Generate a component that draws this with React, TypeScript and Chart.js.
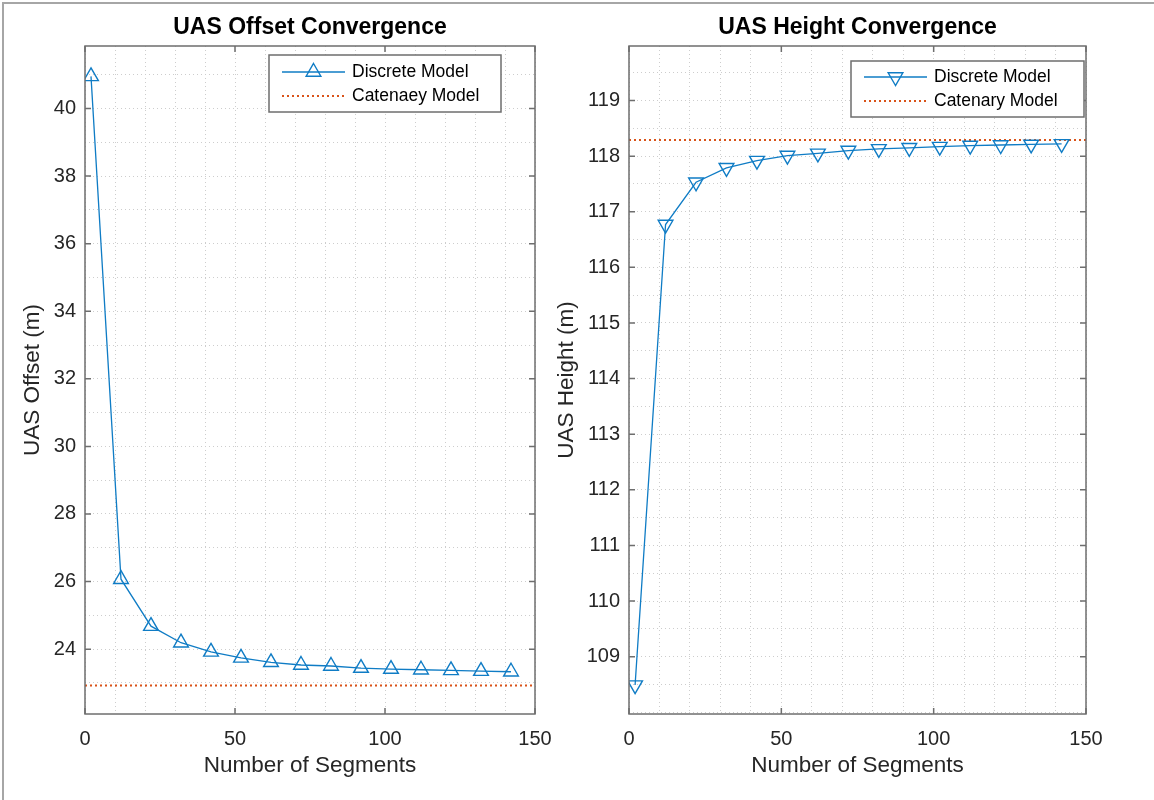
import React, { useEffect, useRef } from 'react';
import { Chart, registerables } from 'chart.js';

Chart.register(...registerables);

// ---------- data ----------
const segments = [2, 12, 22, 32, 42, 52, 62, 72, 82, 92, 102, 112, 122, 132, 142];
const offsetDiscrete = [40.95, 26.07, 24.68, 24.19, 23.92, 23.74, 23.61, 23.53, 23.5, 23.44, 23.41, 23.39, 23.37, 23.35, 23.33];
const offsetCatenary = 22.92;
const heightDiscrete = [108.49, 116.77, 117.53, 117.79, 117.92, 118.01, 118.05, 118.1, 118.13, 118.15, 118.17, 118.19, 118.2, 118.21, 118.22];
const heightCatenary = 118.29;
const catenaryX = [0, 150];

const xMajorTicks = [0, 50, 100, 150];
const xMinorTicks = [0, 10, 20, 30, 40, 50, 60, 70, 80, 90, 100, 110, 120, 130, 140, 150];
const offsetMajorTicks = [24, 26, 28, 30, 32, 34, 36, 38, 40];
const offsetMinorTicks = [23, 24, 25, 26, 27, 28, 29, 30, 31, 32, 33, 34, 35, 36, 37, 38, 39, 40, 41];
const heightMajorTicks = [109, 110, 111, 112, 113, 114, 115, 116, 117, 118, 119];
const heightMinorTicks = [108, 108.5, 109, 109.5, 110, 110.5, 111, 111.5, 112, 112.5, 113, 113.5, 114, 114.5, 115, 115.5, 116, 116.5, 117, 117.5, 118, 118.5, 119, 119.5];
const xRange = [0, 150];
const offsetRange = [22.08, 41.85];
const heightRange = [107.97, 119.98];

// ---------- styles ----------
const FONT = '"Liberation Sans", Arial, Helvetica, sans-serif';
const BLUE = '#0f7cc5';
const ORANGE = '#D95319';
const GRID_COLOR = '#cdcdcd';
const AXIS_COLOR = '#6e6e6e';
const TICK_COLOR = '#262626';
const TICK_LEN = 6;

const decorPlugin = {
  id: 'matlabDecor',
  afterDraw(chart: any, _args: any, opts: any) {
    const ctx = chart.ctx;
    const { left, right, top, bottom } = chart.chartArea;
    const xs = chart.scales.x;
    const ys = chart.scales.y;
    ctx.save();
    // axes box
    ctx.strokeStyle = AXIS_COLOR;
    ctx.lineWidth = 1.5;
    ctx.setLineDash([]);
    ctx.strokeRect(left, top, right - left, bottom - top);
    // inward major ticks
    ctx.beginPath();
    for (const v of opts.xMajor) {
      const px = xs.getPixelForValue(v);
      ctx.moveTo(px, bottom);
      ctx.lineTo(px, bottom - TICK_LEN);
      ctx.moveTo(px, top);
      ctx.lineTo(px, top + TICK_LEN);
    }
    for (const v of opts.yMajor) {
      const py = ys.getPixelForValue(v);
      ctx.moveTo(left, py);
      ctx.lineTo(left + TICK_LEN, py);
      ctx.moveTo(right, py);
      ctx.lineTo(right - TICK_LEN, py);
    }
    ctx.stroke();

    // title
    ctx.textAlign = 'center';
    ctx.textBaseline = 'middle';
    ctx.fillStyle = '#000';
    ctx.font = `bold 23px ${FONT}`;
    ctx.fillText(opts.title, (left + right) / 2, opts.titleY);

    // axis labels
    ctx.fillStyle = TICK_COLOR;
    ctx.font = `22.5px ${FONT}`;
    ctx.fillText(opts.xLabel, (left + right) / 2, opts.xLabelY);
    ctx.save();
    ctx.translate(opts.yLabelX, (top + bottom) / 2);
    ctx.rotate(-Math.PI / 2);
    ctx.fillText(opts.yLabel, 0, 0);
    ctx.restore();

    // legend
    const lb = opts.legend;
    ctx.fillStyle = '#fff';
    ctx.fillRect(lb.x, lb.y, lb.w, lb.h);
    ctx.strokeStyle = AXIS_COLOR;
    ctx.lineWidth = 1.5;
    ctx.strokeRect(lb.x, lb.y, lb.w, lb.h);
    chart.data.datasets.forEach((ds: any, i: number) => {
      const ry = lb.y + lb.rows[i];
      ctx.save();
      ctx.strokeStyle = ds.borderColor;
      ctx.lineWidth = ds.borderWidth;
      ctx.setLineDash(ds.borderDash || []);
      ctx.beginPath();
      ctx.moveTo(lb.x + 13, ry);
      ctx.lineTo(lb.x + 76, ry);
      ctx.stroke();
      ctx.setLineDash([]);
      if (ds.pointRadius > 0) {
        const r = ds.pointRadius;
        const cx = lb.x + 44.5;
        let rad = ((ds.pointRotation || 0) * Math.PI) / 180;
        ctx.lineWidth = ds.pointBorderWidth;
        ctx.beginPath();
        for (let k = 0; k < 3; k++) {
          const px = cx + Math.sin(rad) * r;
          const py = ry - Math.cos(rad) * r;
          if (k === 0) ctx.moveTo(px, py);
          else ctx.lineTo(px, py);
          rad += (2 * Math.PI) / 3;
        }
        ctx.closePath();
        ctx.stroke();
      }
      ctx.fillStyle = '#000';
      ctx.font = `17.5px ${FONT}`;
      ctx.textAlign = 'left';
      ctx.textBaseline = 'middle';
      ctx.fillText(ds.label, lb.x + 83, ry);
      ctx.restore();
    });
    ctx.restore();
  },
};

type PanelProps = {
  left: number;
  width: number;
  rightPad: number;
  yAxisWidth: number;
  values: number[];
  catenary: number;
  catLabel: string;
  yRange: number[];
  yMajor: number[];
  yMinor: number[];
  rotation: number;
  title: string;
  yLabel: string;
  yLabelX: number;
  legend: { x: number; y: number; w: number; h: number; rows: number[] };
};

function Panel(p: PanelProps) {
  const ref = useRef<HTMLCanvasElement | null>(null);
  useEffect(() => {
    if (!ref.current) return;
    const isMajorY = (v: number) => p.yMajor.some((m) => Math.abs(m - v) < 1e-9);
    const chart = new Chart(ref.current, {
      type: 'line',
      data: {
        datasets: [
          {
            label: 'Discrete Model',
            data: segments.map((s, i) => ({ x: s, y: p.values[i] })),
            borderColor: BLUE,
            borderWidth: 1.3,
            pointStyle: 'triangle',
            pointRadius: 8.5,
            pointRotation: p.rotation,
            pointBorderWidth: 1.4,
            pointBorderColor: BLUE,
            pointBackgroundColor: 'rgba(0,0,0,0)',
            fill: false,
            tension: 0,
          } as any,
          {
            label: p.catLabel,
            data: catenaryX.map((x) => ({ x, y: p.catenary })),
            borderColor: ORANGE,
            borderWidth: 2,
            borderDash: [2, 3],
            pointRadius: 0,
            fill: false,
          } as any,
        ],
      },
      options: {
        animation: false,
        responsive: false,
        devicePixelRatio: 1,
        layout: { padding: { left: 0, right: p.rightPad, top: 46, bottom: 0 } },
        plugins: {
          legend: { display: false },
          title: { display: false },
          tooltip: { enabled: false },
          matlabDecor: {
            title: p.title,
            titleY: 28,
            xLabel: 'Number of Segments',
            xLabelY: 766,
            yLabel: p.yLabel,
            yLabelX: p.yLabelX,
            xMajor: xMajorTicks,
            yMajor: p.yMajor,
            legend: p.legend,
          },
        } as any,
        scales: {
          x: {
            type: 'linear',
            min: xRange[0],
            max: xRange[1],
            afterBuildTicks: (s: any) => {
              s.ticks = xMinorTicks.map((v) => ({ value: v }));
            },
            afterFit: (s: any) => {
              s.height = 86;
              s.paddingLeft = 0;
              s.paddingRight = 0;
            },
            grid: { color: GRID_COLOR, lineWidth: 1, drawTicks: false },
            border: { display: false, dash: [1, 3] },
            ticks: {
              autoSkip: false,
              maxRotation: 0,
              padding: 13,
              color: TICK_COLOR,
              font: { family: FONT, size: 20 },
              callback: (v: any) => (xMajorTicks.includes(Number(v)) ? String(v) : ''),
            },
          },
          y: {
            type: 'linear',
            min: p.yRange[0],
            max: p.yRange[1],
            afterBuildTicks: (s: any) => {
              s.ticks = p.yMinor.map((v) => ({ value: v }));
            },
            afterFit: (s: any) => {
              s.width = p.yAxisWidth;
              s.paddingTop = 0;
              s.paddingBottom = 0;
            },
            grid: { color: GRID_COLOR, lineWidth: 1, drawTicks: false },
            border: { display: false, dash: [1, 3] },
            ticks: {
              autoSkip: false,
              padding: 9,
              color: TICK_COLOR,
              font: { family: FONT, size: 20 },
              callback: (v: any) => (isMajorY(Number(v)) ? String(v) : ''),
            },
          },
        },
      } as any,
      plugins: [decorPlugin as any],
    });
    return () => chart.destroy();
  }, []);
  return (
    <canvas
      ref={ref}
      width={p.width}
      height={800}
      style={{ position: 'absolute', left: p.left, top: 0, width: p.width, height: 800 }}
    />
  );
}

export default function App() {
  return (
    <div style={{ position: 'absolute', left: 0, top: 0, width: 1154, height: 800, background: '#fff', overflow: 'hidden' }}>
      <div
        style={{
          position: 'absolute',
          left: 2,
          top: 2,
          width: 1160,
          height: 810,
          borderLeft: '2px solid #a6a6a6',
          borderTop: '2px solid #a6a6a6',
        }}
      />
      <Panel
        left={0}
        width={577}
        rightPad={42}
        yAxisWidth={85}
        values={offsetDiscrete}
        catenary={offsetCatenary}
        catLabel="Catenaey Model"
        yRange={offsetRange}
        yMajor={offsetMajorTicks}
        yMinor={offsetMinorTicks}
        rotation={0}
        title="UAS Offset Convergence"
        yLabel="UAS Offset (m)"
        yLabelX={33}
        legend={{ x: 269, y: 55, w: 232, h: 57, rows: [17, 41] }}
      />
      <Panel
        left={545}
        width={609}
        rightPad={68}
        yAxisWidth={84}
        values={heightDiscrete}
        catenary={heightCatenary}
        catLabel="Catenary Model"
        yRange={heightRange}
        yMajor={heightMajorTicks}
        yMinor={heightMinorTicks}
        rotation={180}
        title="UAS Height Convergence"
        yLabel="UAS Height (m)"
        yLabelX={22}
        legend={{ x: 306, y: 61, w: 233, h: 56, rows: [16, 40] }}
      />
    </div>
  );
}
